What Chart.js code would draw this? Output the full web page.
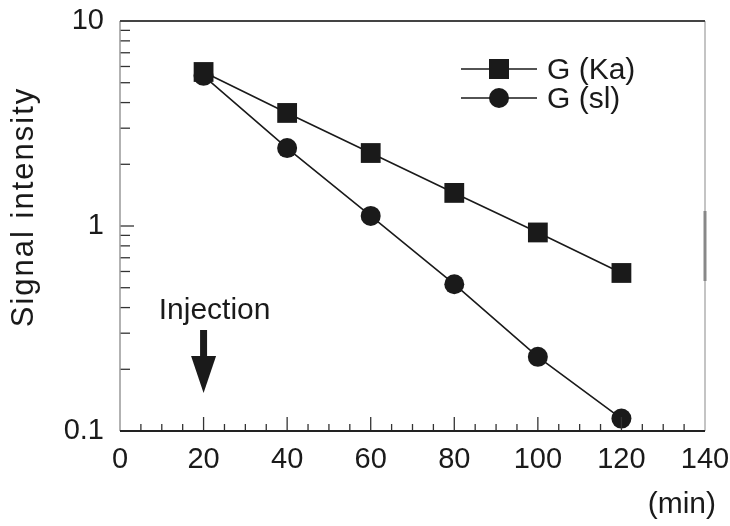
<!DOCTYPE html>
<html>
<head>
<meta charset="utf-8">
<script src="https://cdn.jsdelivr.net/npm/chart.js@4"></script>
<style>
  html,body{margin:0;padding:0;background:#fff;}
  #wrap{width:730px;height:526px;}
</style>
</head>
<body>
<div id="wrap"><canvas id="signalChart" width="730" height="526"></canvas></div>
<script>
// ===== Data =====
const timeMin = [20, 40, 60, 80, 100, 120];
const gKa = [5.64, 3.56, 2.27, 1.45, 0.93, 0.59];
const gSl = [5.4, 2.40, 1.12, 0.52, 0.23, 0.115];

const xTickLabels = [0, 20, 40, 60, 80, 100, 120, 140];
const yTickLabels = [0.1, 1, 10];

const injectionAt = 20;

const FONT = "'Liberation Sans', Arial, Helvetica, sans-serif";
const INK = "#1a1a1a";

function pts(ys){
    return timeMin.map((x,i)=>({x:x, y:ys[i]}));
}

// ===== Frame, ticks and annotations =====
const decorPlugin = {
    id:"decor",
    afterDraw(chart){
        const c = chart.ctx;
        const a = chart.chartArea;
        const xs = chart.scales.x;
        const ys = chart.scales.y;

        c.save();

        // x ticks (inward): major every 20, minor every 5
        c.strokeStyle = "#333";
        c.lineWidth = 1.3;
        for(let v=5; v<140; v+=5){
            const px = xs.getPixelForValue(v);
            const len = (v % 20 === 0) ? 14 : 7;
            c.beginPath();
            c.moveTo(px, a.bottom);
            c.lineTo(px, a.bottom - len);
            c.stroke();
        }

        // y ticks (inward): log minors
        for(let d=0; d<2; d++){
            const base = yTickLabels[d];
            for(let m=1; m<10; m++){
                if(m===1 && d===0) continue;
                const py = ys.getPixelForValue(base*m);
                const len = (m === 1) ? 14 : 10;
                c.beginPath();
                c.moveTo(a.left, py);
                c.lineTo(a.left + len, py);
                c.stroke();
            }
        }

        // frame
        c.lineWidth = 1.5;
        c.strokeStyle = "#999";
        c.beginPath(); c.moveTo(a.left, a.top); c.lineTo(a.left, a.bottom); c.stroke();
        c.strokeStyle = "#b0b0b0";
        c.beginPath(); c.moveTo(a.right, a.top); c.lineTo(a.right, a.bottom); c.stroke();
        c.strokeStyle = "#888";
        c.lineWidth = 3;
        c.beginPath(); c.moveTo(a.right, 211); c.lineTo(a.right, 281); c.stroke();
        c.lineWidth = 2;
        c.strokeStyle = "#444";
        c.beginPath(); c.moveTo(a.left, a.top); c.lineTo(a.right, a.top); c.stroke();
        c.strokeStyle = "#222";
        c.beginPath(); c.moveTo(a.left, a.bottom); c.lineTo(a.right, a.bottom); c.stroke();

        // legend
        c.fillStyle = INK;
        c.strokeStyle = INK;
        c.lineWidth = 1.5;
        c.font = "30px " + FONT;
        c.textBaseline = "middle";
        c.textAlign = "left";

        c.beginPath(); c.moveTo(461, 69); c.lineTo(537, 69); c.stroke();
        c.fillRect(489, 59, 20, 20);
        c.fillText("G (Ka)", 547, 71);

        c.beginPath(); c.moveTo(461, 98); c.lineTo(537, 98); c.stroke();
        c.beginPath(); c.arc(499, 98, 10, 0, Math.PI*2); c.fill();
        c.fillText("G (sl)", 547, 100);

        // injection arrow
        const ax = xs.getPixelForValue(injectionAt);
        c.textAlign = "center";
        c.textBaseline = "alphabetic";
        c.fillText("Injection", ax + 11, 319);
        c.fillRect(ax - 3.5, 330, 7, 28);
        c.beginPath();
        c.moveTo(ax - 12.5, 356);
        c.lineTo(ax + 12.5, 356);
        c.lineTo(ax, 393);
        c.closePath();
        c.fill();

        // axis titles
        c.textAlign = "right";
        c.fillText("(min)", 716, 513);

        c.font = "31px " + FONT;
        c.letterSpacing = "2px";
        c.translate(24, 207);
        c.rotate(-Math.PI/2);
        c.textAlign = "center";
        c.textBaseline = "middle";
        c.fillText("Signal intensity", 0, 0);

        c.restore();
    }
};

// ===== Chart =====
const ctx = document.getElementById("signalChart").getContext("2d");

const signalChart = new Chart(ctx, {

    type:"scatter",

    data:{
        datasets:[
            {
                label:"G (Ka)",
                data:pts(gKa),
                showLine:true,
                borderColor:INK,
                backgroundColor:INK,
                borderWidth:1.6,
                pointStyle:"rect",
                pointRadius:14,
                pointBorderWidth:0
            },
            {
                label:"G (sl)",
                data:pts(gSl),
                showLine:true,
                borderColor:INK,
                backgroundColor:INK,
                borderWidth:1.6,
                pointStyle:"circle",
                pointRadius:10,
                pointBorderWidth:0
            }
        ]
    },

    options:{
        responsive:false,
        animation:false,
        events:[],
        layout:{
            padding:{left:0, right:25, top:21, bottom:0}
        },
        plugins:{
            legend:{display:false},
            tooltip:{enabled:false}
        },
        scales:{
            x:{
                type:"linear",
                min:0,
                max:140,
                grid:{display:false, drawTicks:false},
                border:{display:false},
                afterBuildTicks(scale){
                    scale.ticks = xTickLabels.map(v=>({value:v}));
                },
                afterFit(scale){
                    scale.height = 95;
                    scale.paddingLeft = 0;
                    scale.paddingRight = 0;
                },
                ticks:{
                    color:INK,
                    padding:12,
                    maxRotation:0,
                    font:{family:FONT, size:29}
                }
            },
            y:{
                type:"logarithmic",
                min:0.1,
                max:10,
                grid:{display:false, drawTicks:false},
                border:{display:false},
                afterBuildTicks(scale){
                    scale.ticks = yTickLabels.map(v=>({value:v}));
                },
                afterFit(scale){
                    scale.width = 120;
                    scale.paddingTop = 0;
                    scale.paddingBottom = 0;
                },
                ticks:{
                    color:INK,
                    padding:16,
                    font:{family:FONT, size:29},
                    callback:(v)=>String(v)
                }
            }
        }
    },

    plugins:[decorPlugin]

});
</script>
</body>
</html>
